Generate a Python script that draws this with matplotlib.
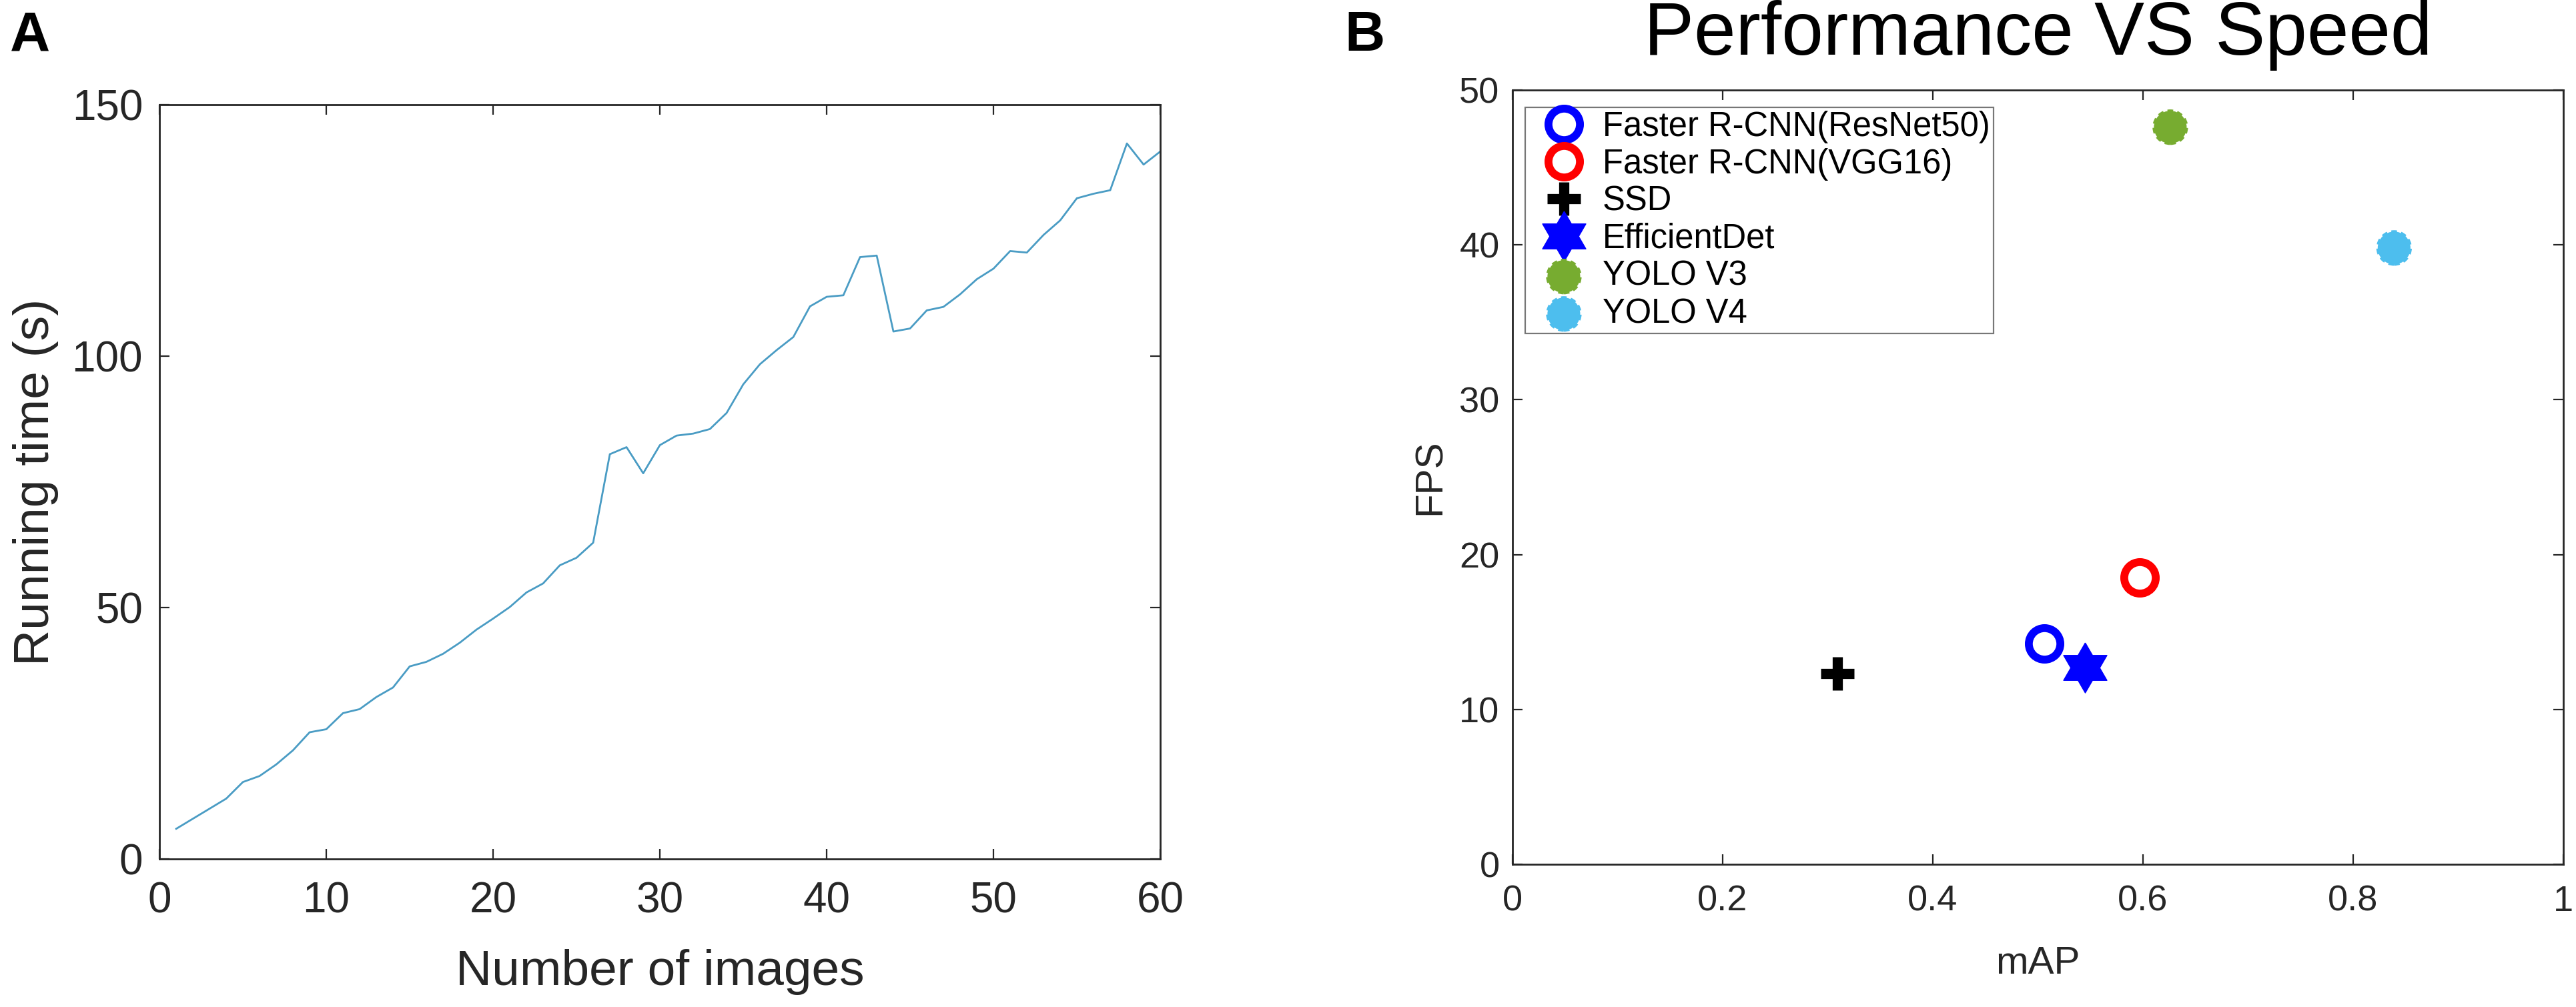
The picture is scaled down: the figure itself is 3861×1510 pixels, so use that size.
import numpy as np
import matplotlib
matplotlib.use('Agg')
import matplotlib.pyplot as plt

plt.rcParams['font.family'] = ['Liberation Sans', 'DejaVu Sans']

# ---- panel A data ----
n_images = np.arange(1, 61)
running_time = [6.0, 8.0, 10.0, 12.0, 15.3, 16.5, 18.8, 21.6, 25.2, 25.8,
                29.0, 29.8, 32.2, 34.1, 38.3, 39.2, 40.8, 43.0, 45.6, 47.8,
                50.1, 53.0, 54.8, 58.4, 59.9, 62.9, 80.5, 81.9, 76.7, 82.3,
                84.2, 84.6, 85.5, 88.7, 94.4, 98.4, 101.2, 103.8, 109.9, 111.8,
                112.1, 119.7, 120.0, 104.9, 105.5, 109.1, 109.8, 112.3, 115.3, 117.4,
                120.9, 120.6, 124.1, 127.0, 131.4, 132.3, 133.0, 142.3, 138.1, 140.7]

# ---- panel B data ----
models = ['Faster R-CNN(ResNet50)', 'Faster R-CNN(VGG16)', 'SSD',
          'EfficientDet', 'YOLO V3', 'YOLO V4']
map_vals = [0.506, 0.597, 0.309, 0.545, 0.626, 0.839]
fps_vals = [14.25, 18.5, 12.3, 12.7, 47.6, 39.8]

spine_col = '#262626'

fig = plt.figure(figsize=(38.62, 15.10), dpi=100)


def style_axes(ax, tick_fs, pad_x, pad_y):
    for s in ax.spines.values():
        s.set_color(spine_col)
        s.set_linewidth(2.0)
    ax.tick_params(direction='in', length=11, width=1.6, color=spine_col,
                   top=True, right=True, labelsize=tick_fs, labelcolor='#262626')
    ax.tick_params(axis='x', pad=pad_x)
    ax.tick_params(axis='y', pad=pad_y)


# panel A: running time
axA = fig.add_axes([0.0619, 0.1470, 0.3884, 0.7490])
axA.plot(n_images, running_time, color='#4a9cc4', lw=2.0)
axA.set_xlim(0, 60)
axA.set_ylim(0, 150)
axA.set_xticks([0, 10, 20, 30, 40, 50, 60])
axA.set_yticks([0, 50, 100, 150])
style_axes(axA, 46, 24, 18)
axA.set_xlabel('Number of images', fontsize=54, color='#262626', labelpad=30)
axA.set_ylabel('Running time (s)', fontsize=54, color='#262626', labelpad=14)

# panel B: performance vs speed
axB = fig.add_axes([0.5870, 0.1417, 0.4078, 0.7689])

# six pointed star marker (MATLAB hexagram)
ang_out = np.deg2rad(90 + 60 * np.arange(6))
ang_in = ang_out + np.deg2rad(30)
r_in = 1 / np.sqrt(3)
hexagram = []
for a, b in zip(ang_out, ang_in):
    hexagram.append((np.cos(a), np.sin(a)))
    hexagram.append((r_in * np.cos(b), r_in * np.sin(b)))
hexagram.append(hexagram[0])

handles = []
h, = axB.plot(map_vals[0], fps_vals[0], ls='none', marker='o', ms=34,
              mfc='none', mec='#0000ff', mew=8.5)
handles.append(h)
h, = axB.plot(map_vals[1], fps_vals[1], ls='none', marker='o', ms=34,
              mfc='none', mec='#ff0000', mew=8.5)
handles.append(h)
h, = axB.plot(map_vals[2], fps_vals[2], ls='none', marker='+', ms=36,
              mec='black', mew=11)
handles.append(h)
h, = axB.plot(map_vals[3], fps_vals[3], ls='none', marker=hexagram, ms=54,
              mfc='#0000ff', mec='#0000ff', mew=1)
handles.append(h)
h = axB.scatter(map_vals[4], fps_vals[4], s=1250, c='#77ac30',
                edgecolors='#77ac30', linewidths=3, linestyle=(0, (2, 1.5)))
handles.append(h)
h = axB.scatter(map_vals[5], fps_vals[5], s=1250, c='#4dbeee',
                edgecolors='#4dbeee', linewidths=3, linestyle=(0, (2, 1.5)))
handles.append(h)

axB.set_xlim(0, 1)
axB.set_ylim(0, 50)
axB.set_xticks([0, 0.2, 0.4, 0.6, 0.8, 1])
axB.set_xticklabels(['0', '0.2', '0.4', '0.6', '0.8', '1'])
axB.set_yticks([0, 10, 20, 30, 40, 50])
style_axes(axB, 39, 22, 14)
axB.set_xlabel('mAP', fontsize=42, color='#262626', labelpad=30)
axB.set_ylabel('FPS', fontsize=42, color='#262626', labelpad=12)
axB.set_title('Performance VS Speed', fontsize=81, pad=38)

leg = axB.legend(handles, models, loc='upper left',
                 bbox_to_anchor=(0.012, 0.978), fontsize=36.5,
                 frameon=True, fancybox=False, borderpad=0.1,
                 labelspacing=0.14, handlelength=2.09, handletextpad=0.1,
                 borderaxespad=0)
leg.get_frame().set_edgecolor('#555555')
leg.get_frame().set_linewidth(1.6)

# panel letters
fig.text(15 / 3862, 1 - 15 / 1510, 'A', fontsize=60, fontweight='bold',
         ha='left', va='top')
fig.text(2015 / 3862, 1 - 15 / 1510, 'B', fontsize=60, fontweight='bold',
         ha='left', va='top')

fig.savefig('out.png', dpi=100, facecolor='white')
